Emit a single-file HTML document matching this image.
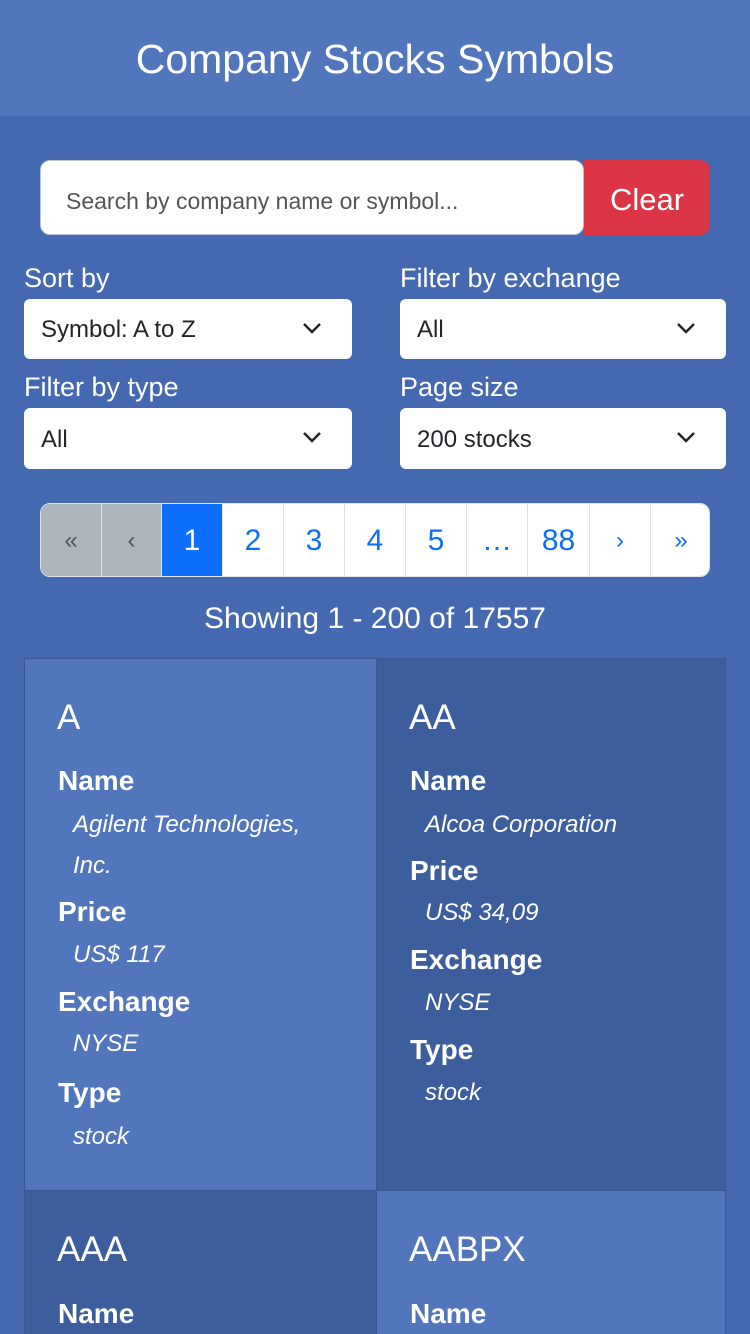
<!DOCTYPE html>
<html style="width:750px;height:1334px;overflow:hidden"><head><meta charset="utf-8"><style>
*{box-sizing:border-box;margin:0;padding:0}
body{width:750px;height:1334px;overflow:hidden;background:#4469b0;font-family:"Liberation Sans",sans-serif;color:#fff;position:relative}
.a{position:absolute;white-space:nowrap}
.t{line-height:40px;height:40px}
.lbl{font-size:25px}
.sel{background:#fff;border-radius:6px;color:#212529;font-size:24px;line-height:60px;padding-left:17px}
.sel svg{position:absolute;right:30px;top:23px}
.pg{position:absolute;top:503px;height:74px;width:61px;border-left:1px solid #dee2e6;text-align:center;line-height:74px;font-size:30px;color:#0d6efd;background:#fff}
.card{position:absolute;border:1px solid #3a5a95}
.h{font-size:35px}
.k{font-size:28px;font-weight:bold}
.v{font-size:24px;font-style:italic}
</style></head><body>
<div class="a" style="left:0;top:0;width:750px;height:116px;background:#5176bc"></div>
<div class="a" style="left:0;top:36px;width:750px;text-align:center;font-size:41px;line-height:46px">Company Stocks Symbols</div>
<div class="a" style="left:40px;top:160px;width:544px;height:75px;background:#fff;border:1px solid #b8c4dc;border-radius:10px;color:#555;font-size:23px;line-height:81px;padding-left:25px">Search by company name or symbol...</div>
<div class="a" style="left:584px;top:160px;width:126px;height:75px;background:#dc3545;border-radius:0 10px 10px 0;text-align:center;line-height:79px;font-size:31px">Clear</div>
<div class="a t lbl" style="left:24px;top:258px;font-size:27px">Sort by</div>
<div class="a t lbl" style="left:400px;top:258px;font-size:27px">Filter by exchange</div>
<div class="a sel" style="left:24px;top:299px;width:328px;height:60px;line-height:62px">Symbol: A to Z<svg width="20" height="13"><path d="M2 2l8 8 8-8" stroke="#212529" stroke-width="2.5" fill="none"/></svg></div>
<div class="a sel" style="left:400px;top:299px;width:326px;height:60px;line-height:62px">All<svg width="20" height="13"><path d="M2 2l8 8 8-8" stroke="#212529" stroke-width="2.5" fill="none"/></svg></div>
<div class="a t lbl" style="left:24px;top:367px;font-size:27px">Filter by type</div>
<div class="a t lbl" style="left:400px;top:367px;font-size:27px">Page size</div>
<div class="a sel" style="left:24px;top:408px;width:328px;height:61px;line-height:63px">All<svg width="20" height="13"><path d="M2 2l8 8 8-8" stroke="#212529" stroke-width="2.5" fill="none"/></svg></div>
<div class="a sel" style="left:400px;top:408px;width:326px;height:61px;line-height:63px">200 stocks<svg width="20" height="13"><path d="M2 2l8 8 8-8" stroke="#212529" stroke-width="2.5" fill="none"/></svg></div>
<div class="a" style="left:40px;top:503px;width:670px;height:74px;border-radius:10px;overflow:hidden;border:1px solid #dee2e6">
<div class="pg" style="left:0;top:0;width:60px;border:0;background:#adb5bd;color:#555;font-size:24px">«</div>
<div class="pg" style="left:60px;top:0;width:60px;background:#adb5bd;color:#555;font-size:24px">‹</div>
<div class="pg" style="left:120px;top:0;background:#0d6efd;color:#fff">1</div>
<div class="pg" style="left:181px;top:0">2</div>
<div class="pg" style="left:242px;top:0">3</div>
<div class="pg" style="left:303px;top:0">4</div>
<div class="pg" style="left:364px;top:0">5</div>
<div class="pg" style="left:425px;top:0">…</div>
<div class="pg" style="left:486px;top:0;width:62px">88</div>
<div class="pg" style="left:548px;top:0;font-size:24px">›</div>
<div class="pg" style="left:609px;top:0;font-size:24px">»</div>
</div>
<div class="a t" style="left:0;top:599px;width:750px;text-align:center;font-size:30px">Showing 1 - 200 of 17557</div>

<div class="card" style="left:24px;top:658px;width:353px;height:533px;background:#5176bc"></div>
<div class="card" style="left:376px;top:658px;width:350px;height:533px;background:#3d5e9c"></div>
<div class="card" style="left:24px;top:1190px;width:353px;height:144px;border-bottom:0;background:#3d5e9c"></div>
<div class="card" style="left:376px;top:1190px;width:350px;height:144px;border-bottom:0;background:#5176bc"></div>

<div class="a t h" style="left:57px;top:698px">A</div>
<div class="a t k" style="left:58px;top:761px">Name</div>
<div class="a t v" style="left:73px;top:805px">Agilent Technologies,</div>
<div class="a t v" style="left:73px;top:846px">Inc.</div>
<div class="a t k" style="left:58px;top:892px">Price</div>
<div class="a t v" style="left:73px;top:935px">US$ 117</div>
<div class="a t k" style="left:58px;top:982px">Exchange</div>
<div class="a t v" style="left:73px;top:1024px">NYSE</div>
<div class="a t k" style="left:58px;top:1073px">Type</div>
<div class="a t v" style="left:73px;top:1117px">stock</div>

<div class="a t h" style="left:409px;top:698px">AA</div>
<div class="a t k" style="left:410px;top:761px">Name</div>
<div class="a t v" style="left:425px;top:805px">Alcoa Corporation</div>
<div class="a t k" style="left:410px;top:851px">Price</div>
<div class="a t v" style="left:425px;top:893px">US$ 34,09</div>
<div class="a t k" style="left:410px;top:940px">Exchange</div>
<div class="a t v" style="left:425px;top:983px">NYSE</div>
<div class="a t k" style="left:410px;top:1030px">Type</div>
<div class="a t v" style="left:425px;top:1073px">stock</div>

<div class="a t h" style="left:57px;top:1230px">AAA</div>
<div class="a t k" style="left:58px;top:1294px">Name</div>
<div class="a t h" style="left:409px;top:1230px">AABPX</div>
<div class="a t k" style="left:410px;top:1294px">Name</div>
</body></html>
